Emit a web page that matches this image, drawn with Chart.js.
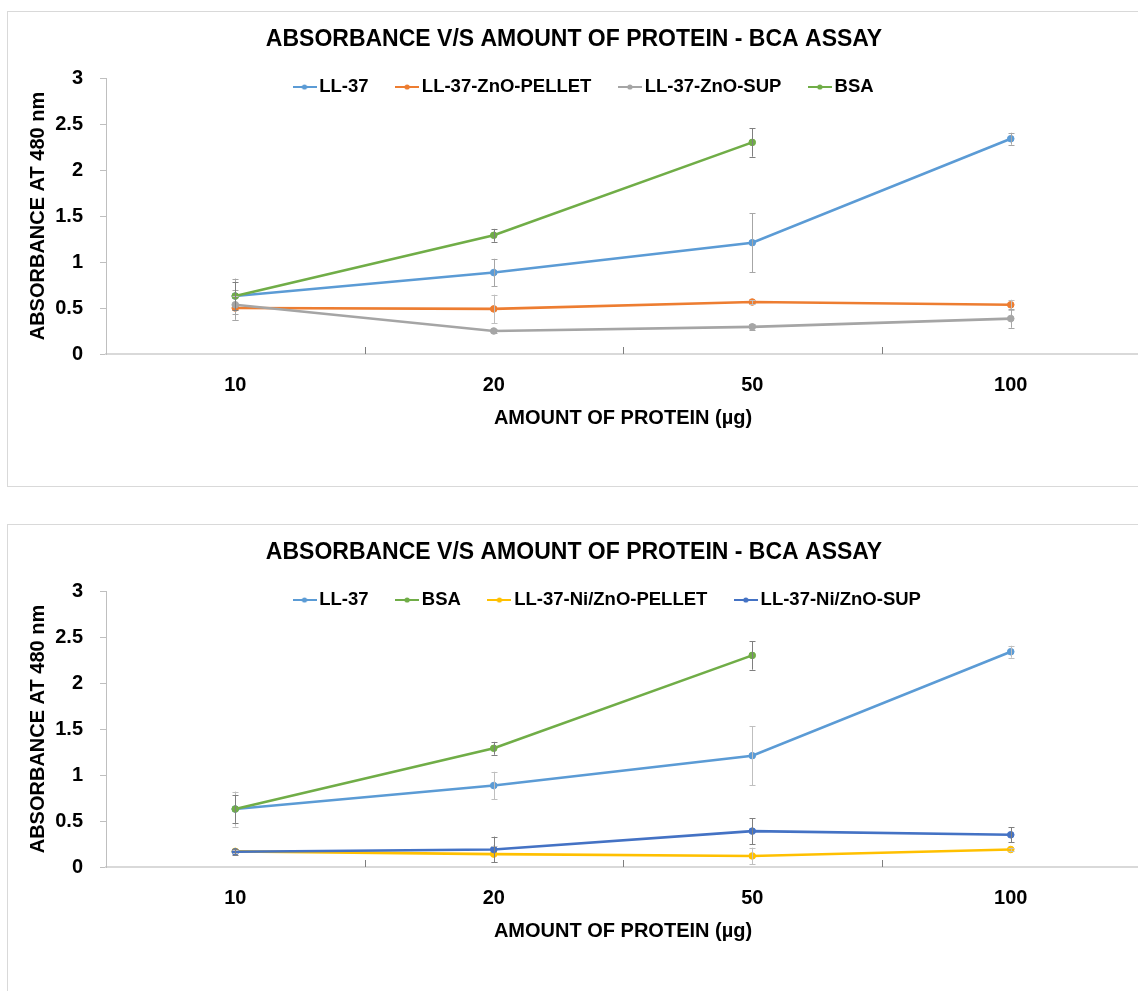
<!DOCTYPE html>
<html>
<head>
<meta charset="utf-8">
<title>Absorbance vs amount of protein - BCA assay</title>
<script src="https://cdn.jsdelivr.net/npm/chart.js@4.4.0/dist/chart.umd.min.js"></script>
<style>
  html, body { margin: 0; padding: 0; background: #fff; overflow: hidden; width: 1138px; height: 991px; }
  .panel { position: absolute; left: 7px; width: 1142px; height: 474px; border: 1px solid #d9d9d9; background: #fff; }
  #panel1 { top: 11px; }
  #panel2 { top: 524px; }
  canvas { display: block; }
</style>
</head>
<body>
<div class="panel" id="panel1"><canvas id="chart1" width="1142" height="474"></canvas></div>
<div class="panel" id="panel2"><canvas id="chart2" width="1142" height="474"></canvas></div>
<script>
// ---- data: protein amounts (µg) and mean absorbance at 480 nm with error margins ----
const proteinAmounts = ['10', '20', '50', '100'];
const yAxisMin = 0;
const yAxisMax = 3;
const yAxisStep = 0.5;

const ll37        = [0.63, 0.885, 1.21, 2.34];
const ll37Err     = [0.19, 0.15, 0.32, 0.065];
const bsa         = [0.63, 1.29, 2.30, null];
const bsaErr      = [0.15, 0.07, 0.155, null];
const znoPellet    = [0.50, 0.49, 0.565, 0.535];
const znoPelletErr = [0.13, 0.155, 0.02, 0.055];
const znoSup       = [0.535, 0.25, 0.295, 0.385];
const znoSupErr    = [0.16, 0.02, 0.035, 0.10];
const niZnoPellet    = [0.17, 0.14, 0.12, 0.19];
const niZnoPelletErr = [0.02, 0.09, 0.09, 0.02];
const niZnoSup       = [0.165, 0.19, 0.39, 0.35];
const niZnoSupErr    = [0.03, 0.14, 0.14, 0.08];

const chartTitle = 'ABSORBANCE V/S AMOUNT OF PROTEIN - BCA ASSAY';
const xTitle = 'AMOUNT OF PROTEIN (µg)';
const yTitle = 'ABSORBANCE AT 480 nm';

const FONT = "'Liberation Sans', Arial, sans-serif";

// small "line with dot" swatch used by the legend
function makeSwatch(color) {
  const c = document.createElement('canvas');
  c.width = 24; c.height = 8;
  const g = c.getContext('2d');
  g.strokeStyle = color; g.lineWidth = 2;
  g.beginPath(); g.moveTo(0, 4); g.lineTo(24, 4); g.stroke();
  g.fillStyle = color;
  g.beginPath(); g.arc(12, 4, 2.6, 0, Math.PI * 2); g.fill();
  return c;
}

// legend placement, error bars and inner category tick marks
const panelPlugin = {
  id: 'panelExtras',
  afterLayout(chart, args, opts) {
    const lg = chart.legend;
    if (!lg) return;
    const pad = lg.options.labels.padding;
    const size = lg.options.labels.font.size;
    const w = lg.right - lg.left;
    lg.left = opts.legendX - pad; lg.right = lg.left + w;
    lg.top = opts.legendY - pad - size / 2;
    lg.bottom = lg.top + 2 * pad + size + 10;
  },
  afterDatasetsDraw(chart, args, opts) {
    const ctx = chart.ctx;
    const xs = chart.scales.x, ys = chart.scales.y;
    const area = chart.chartArea;
    ctx.save();
    // category separator ticks pointing into the plot
    const step = xs.getPixelForValue(1) - xs.getPixelForValue(0);
    ctx.strokeStyle = '#7f7f7f';
    ctx.lineWidth = 1;
    for (let i = 1; i < proteinAmounts.length; i++) {
      const px = Math.round(xs.getPixelForValue(i) - step / 2) + 0.5;
      ctx.beginPath(); ctx.moveTo(px, area.bottom); ctx.lineTo(px, area.bottom - 7); ctx.stroke();
    }
    // error bars
    chart.data.datasets.forEach((ds, di) => {
      const errs = ds.errors;
      if (!errs) return;
      const meta = chart.getDatasetMeta(di);
      ctx.strokeStyle = ds.errorColor;
      ctx.lineWidth = 1;
      ds.data.forEach((v, j) => {
        if (v == null || errs[j] == null) return;
        const px = Math.round(meta.data[j].x) + 0.5;
        const top = ys.getPixelForValue(v + errs[j]);
        const bot = ys.getPixelForValue(v - errs[j]);
        ctx.beginPath();
        ctx.moveTo(px, top); ctx.lineTo(px, bot);
        ctx.moveTo(px - 3, Math.round(top) + 0.5); ctx.lineTo(px + 3, Math.round(top) + 0.5);
        ctx.moveTo(px - 3, Math.round(bot) + 0.5); ctx.lineTo(px + 3, Math.round(bot) + 0.5);
        ctx.stroke();
      });
    });
    ctx.restore();
  }
};

function series(label, data, errors, color, errorColor, idx) {
  return {
    label, data, errors, errorColor,
    borderColor: color, backgroundColor: color,
    pointBackgroundColor: color, pointBorderColor: color,
    borderWidth: 2.6, pointRadius: 3.3, pointBorderWidth: 1,
    tension: 0, spanGaps: false, order: -idx,
    swatch: makeSwatch(color)
  };
}

function buildChart(canvasId, datasets) {
  return new Chart(document.getElementById(canvasId), {
    type: 'line',
    data: { labels: proteinAmounts, datasets },
    plugins: [panelPlugin],
    options: {
      responsive: false,
      animation: false,
      devicePixelRatio: 1,
      layout: { padding: { left: 0, right: 10, top: 0, bottom: 0 } },
      plugins: {
        tooltip: { enabled: false },
        panelExtras: { legendX: 291, legendY: 75 },
        title: {
          display: true, text: chartTitle, color: '#000',
          font: { family: FONT, size: 23, weight: 'bold' },
          padding: { top: 13.5, bottom: 23.9 }
        },
        legend: {
          position: 'top', align: 'start', maxHeight: 1,
          labels: {
            usePointStyle: true, pointStyleWidth: 11, padding: 33,
            color: '#000', font: { family: FONT, size: 18.5, weight: 'bold' },
            sort: (a, b) => a.datasetIndex - b.datasetIndex,
            generateLabels(chart) {
              const items = Chart.defaults.plugins.legend.labels.generateLabels(chart);
              items.forEach(it => { it.pointStyle = chart.data.datasets[it.datasetIndex].swatch; });
              return items;
            }
          }
        }
      },
      scales: {
        x: {
          type: 'category', offset: true,
          grid: { display: false, drawTicks: false, offset: true },
          border: { display: true, color: '#d9d9d9', width: 2 },
          ticks: { color: '#000', padding: 19, font: { family: FONT, size: 20, weight: 'bold' } },
          title: {
            display: true, text: xTitle, color: '#000',
            font: { family: FONT, size: 20, weight: 'bold' },
            padding: { top: 4, bottom: 56 }
          },
          afterFit(scale) { scale.height = 132; }
        },
        y: {
          min: yAxisMin, max: yAxisMax,
          grid: { display: true, drawOnChartArea: false, drawTicks: true, tickLength: 6, color: '#bfbfbf' },
          border: { display: true, color: '#bfbfbf', width: 1 },
          ticks: {
            stepSize: yAxisStep, color: '#000', padding: 17,
            font: { family: FONT, size: 20, weight: 'bold' },
            callback: v => String(v)
          },
          title: {
            display: true, text: yTitle, color: '#000',
            font: { family: FONT, size: 20, weight: 'bold' },
            padding: { top: 18, bottom: 0 }
          },
          afterFit(scale) { scale.width = 98; }
        }
      }
    }
  });
}

buildChart('chart1', [
  series('LL-37', ll37, ll37Err, '#5B9BD5', '#a6a6a6', 0),
  series('LL-37-ZnO-PELLET', znoPellet, znoPelletErr, '#ED7D31', '#bfbfbf', 1),
  series('LL-37-ZnO-SUP', znoSup, znoSupErr, '#A5A5A5', '#a6a6a6', 2),
  series('BSA', bsa, bsaErr, '#70AD47', '#7f7f7f', 3)
]);

buildChart('chart2', [
  series('LL-37', ll37, ll37Err, '#5B9BD5', '#bfbfbf', 0),
  series('BSA', bsa, bsaErr, '#70AD47', '#7f7f7f', 1),
  series('LL-37-Ni/ZnO-PELLET', niZnoPellet, niZnoPelletErr, '#FFC000', '#bfbfbf', 2),
  series('LL-37-Ni/ZnO-SUP', niZnoSup, niZnoSupErr, '#4472C4', '#7f7f7f', 3)
]);
</script>
</body>
</html>
